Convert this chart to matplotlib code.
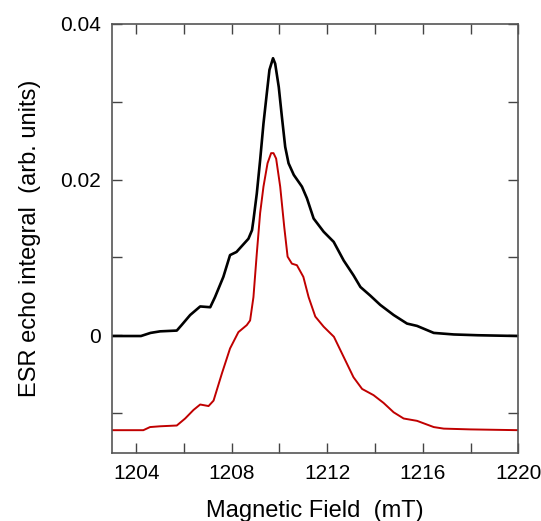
import matplotlib
matplotlib.use("Agg")
import matplotlib.pyplot as plt
from matplotlib.ticker import MultipleLocator

plt.rcParams['font.family'] = ['Liberation Sans', 'DejaVu Sans']

black_x = [1203.0, 1204.2, 1204.6, 1205.0, 1205.7, 1205.9, 1206.26, 1206.68, 1207.1, 1207.3,
           1207.65, 1207.93, 1208.2, 1208.7, 1208.85, 1208.91, 1209.05, 1209.19, 1209.33, 1209.47,
           1209.58, 1209.73, 1209.82, 1209.97, 1210.1, 1210.24, 1210.38, 1210.6, 1210.94, 1211.15,
           1211.43, 1211.85, 1212.27, 1212.69, 1213.1, 1213.39, 1213.8, 1214.22, 1214.78, 1215.34,
           1215.76, 1216.46, 1217.3, 1218.3, 1220.0]
black_y = [-0.0001, -0.0001, 0.0003, 0.0005, 0.0006, 0.0013, 0.0026, 0.0037, 0.0036, 0.0049,
           0.0075, 0.0103, 0.0107, 0.0124, 0.0135, 0.0148, 0.0182, 0.0225, 0.0272, 0.0311,
           0.0341, 0.0356, 0.0349, 0.0319, 0.0281, 0.0242, 0.0221, 0.0206, 0.0191, 0.0176,
           0.0150, 0.0133, 0.0120, 0.0096, 0.0077, 0.0062, 0.0051, 0.0039, 0.0026, 0.0015,
           0.0012, 0.0003, 0.0001, 0.0000, -0.0001]

red_x = [1203.0, 1204.3, 1204.58, 1205.0, 1205.7, 1206.05, 1206.4, 1206.68, 1207.03, 1207.24,
         1207.59, 1207.93, 1208.28, 1208.63, 1208.77, 1208.91, 1209.05, 1209.19, 1209.33, 1209.5,
         1209.65, 1209.75, 1209.86, 1210.03, 1210.2, 1210.34, 1210.52, 1210.73, 1211.0, 1211.22,
         1211.5, 1211.85, 1212.28, 1212.69, 1213.1, 1213.46, 1213.94, 1214.36, 1214.78, 1215.2,
         1215.76, 1216.46, 1216.88, 1218.0, 1220.0]
red_y = [-0.0122, -0.0122, -0.0118, -0.0117, -0.0116, -0.0107, -0.0096, -0.0089, -0.0091, -0.0084,
         -0.0049, -0.0017, 0.0004, 0.0013, 0.0019, 0.0049, 0.0105, 0.0157, 0.0191, 0.0221,
         0.0234, 0.0234, 0.0227, 0.0191, 0.0139, 0.0101, 0.0092, 0.0090, 0.0075, 0.0049,
         0.0024, 0.0011, -0.0002, -0.0028, -0.0054, -0.0069, -0.0077, -0.0087, -0.0099, -0.0107,
         -0.0110, -0.0118, -0.0120, -0.0121, -0.0122]

x_ticks = [1204, 1208, 1212, 1216, 1220]
y_ticks = [0, 0.02, 0.04]
y_tick_labels = ['0', '0.02', '0.04']

fig = plt.figure(figsize=(5.41, 5.21), dpi=100)
ax = fig.add_axes([0.2076, 0.131, 0.7504, 0.823])

ax.plot(black_x, black_y, color='black', lw=1.9)
ax.plot(red_x, red_y, color='#c00000', lw=1.4)

ax.set_xlim(1203, 1220)
ax.set_ylim(-0.0151, 0.04)
ax.set_xticks(x_ticks)
ax.xaxis.set_minor_locator(MultipleLocator(2))
ax.set_yticks(y_ticks)
ax.set_yticklabels(y_tick_labels)
ax.yaxis.set_minor_locator(MultipleLocator(0.01))

ax.tick_params(which='both', direction='in', top=True, right=True, length=7,
               width=1, color='#444444', labelsize=15, pad=8)
for s in ax.spines.values():
    s.set_color('#555555')
    s.set_linewidth(1.2)

ax.set_xlabel('Magnetic Field  (mT)', fontsize=17, labelpad=12)
ax.set_ylabel('ESR echo integral  (arb. units)', fontsize=17, labelpad=14)

fig.savefig('out.png', dpi=100)
